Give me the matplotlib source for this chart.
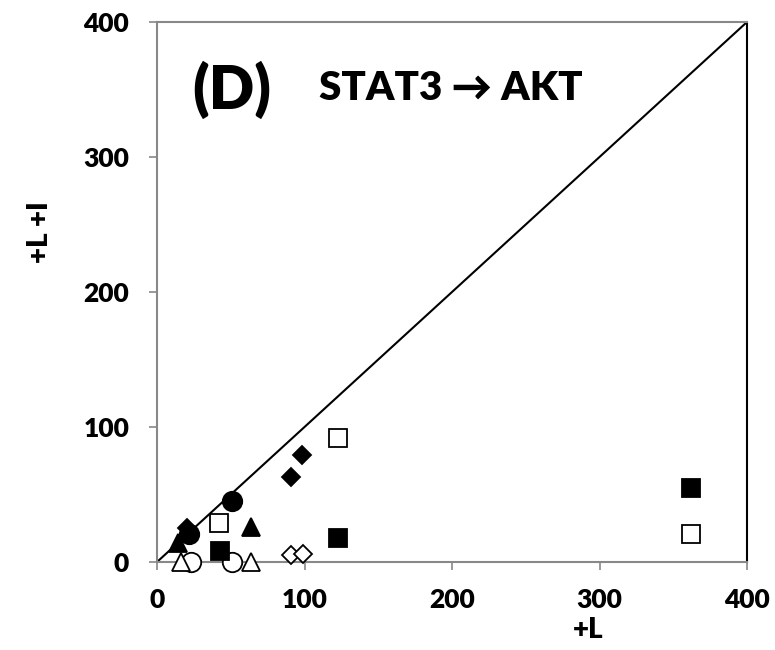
import matplotlib
matplotlib.use("Agg")
import matplotlib.pyplot as plt

plt.rcParams['font.family'] = ['Lato', 'DejaVu Sans']

# +L (x) and +L +I (y) values per marker group
filled_circle_x = [51, 22]
filled_circle_y = [45, 21]
open_circle_x = [23, 51]
open_circle_y = [0, 0]
filled_triangle_x = [64, 14]
filled_triangle_y = [26, 14]
open_triangle_x = [16, 64]
open_triangle_y = [0, 0]
filled_diamond_x = [91, 98, 20]
filled_diamond_y = [63, 79, 25]
open_diamond_x = [91, 99]
open_diamond_y = [5, 6]
filled_square_x = [362, 123, 43]
filled_square_y = [55, 18, 8]
open_square_x = [362, 123, 42]
open_square_y = [21, 92, 29]

ticks = [0, 100, 200, 300, 400]

fig = plt.figure(figsize=(7.75, 6.5), dpi=100)
ax = fig.add_axes([157 / 775, 88 / 650, 590 / 775, 540 / 650])

# identity line
ax.plot([0, 400], [0, 400], color='black', lw=1.5, zorder=2)

mk = dict(linestyle='none', markeredgecolor='black', markeredgewidth=1.3,
          zorder=3, clip_on=False)
ax.plot(open_circle_x, open_circle_y, marker='o', ms=14, markerfacecolor='white', **mk)
ax.plot(open_triangle_x, open_triangle_y, marker='^', ms=13, markerfacecolor='white', **mk)
ax.plot(open_diamond_x, open_diamond_y, marker='D', ms=9.5, markerfacecolor='white', **mk)
ax.plot(open_square_x, open_square_y, marker='s', ms=13, markerfacecolor='white', **mk)
ax.plot(filled_square_x, filled_square_y, marker='s', ms=13, markerfacecolor='black', **mk)
ax.plot(filled_diamond_x, filled_diamond_y, marker='D', ms=9.5, markerfacecolor='black', **mk)
ax.plot(filled_triangle_x, filled_triangle_y, marker='^', ms=13, markerfacecolor='black', **mk)
ax.plot(filled_circle_x, filled_circle_y, marker='o', ms=14, markerfacecolor='black', **mk)

ax.set_xlim(0, 400)
ax.set_ylim(0, 400)
ax.set_xticks(ticks)
ax.set_yticks(ticks)
ax.set_xticklabels([str(t) for t in ticks], fontsize=19, fontweight='heavy')
ax.set_yticklabels([str(t) for t in ticks], fontsize=19, fontweight='heavy')
ax.tick_params(direction='out', length=6, width=1.2, color='#888888')
ax.tick_params(axis='x', pad=13)
ax.tick_params(axis='y', pad=14)

for side in ('left', 'bottom', 'top'):
    ax.spines[side].set_color('#888888')
    ax.spines[side].set_linewidth(1.5)
ax.spines['right'].set_color('black')
ax.spines['right'].set_linewidth(1.5)

ax.set_xlabel('+L', fontsize=20, fontweight='heavy')
ax.set_ylabel('+L +I', fontsize=20, fontweight='heavy')
ax.xaxis.set_label_coords(0.73, -0.126)
ax.yaxis.set_label_coords(-0.198, 0.61)
ax.xaxis.label.set_va('center')
ax.yaxis.label.set_va('center')

ax.text(51, 350, '(D)', fontsize=43, fontweight='heavy', ha='center', va='center')
ax.text(199, 351, 'STAT3 \u2192 AKT', fontsize=29, fontweight='heavy', ha='center', va='center')

fig.savefig('out.png', dpi=100)
